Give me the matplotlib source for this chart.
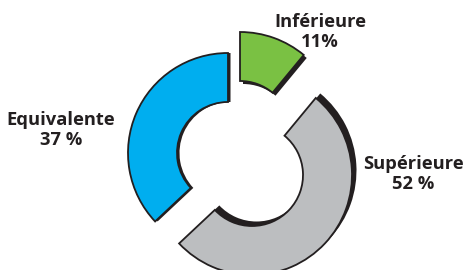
import matplotlib
matplotlib.use('Agg')
import matplotlib.pyplot as plt
from matplotlib.patches import Wedge

# data
categories = ['Inférieure', 'Supérieure', 'Equivalente']
values = [11, 52, 37]
pct_labels = ['11%', '52 %', '37 %']
colors = ['#7AC143', '#BCBEC0', '#00AEEF']

# layout (pixel-like units, y up)
center = (240, 117)
R, width = 100, 49
explode = [(0, 21), (12, -22), (-12, 0)]
shadow = [(3, -3), (4.5, 4.5), (2.5, 0)]
label_pos = [(320, 238), (413, 96), (61, 140)]

fig = plt.figure(figsize=(4.68, 2.70), dpi=100)
ax = fig.add_axes([0, 0, 1, 1])
ax.set_xlim(0, 468)
ax.set_ylim(0, 270)
ax.set_aspect('equal')
ax.axis('off')

total = sum(values)
start = 90.0
for i, v in enumerate(values):
    sweep = 360.0 * v / total
    t1, t2 = start - sweep, start
    cx = center[0] + explode[i][0]
    cy = center[1] + explode[i][1]
    sh = Wedge((cx + shadow[i][0], cy + shadow[i][1]), R, t1, t2, width=width,
               facecolor='#231F20', edgecolor='none', zorder=1)
    ax.add_patch(sh)
    w = Wedge((cx, cy), R, t1, t2, width=width,
              facecolor=colors[i], edgecolor='#231F20', linewidth=1.3, zorder=2)
    ax.add_patch(w)
    start -= sweep

for i, cat in enumerate(categories):
    x, y = label_pos[i]
    ax.text(x, y, cat + '\n' + pct_labels[i], ha='center', va='center',
            fontsize=13.2, fontweight='bold', family='Open Sans',
            color='#231F20', linespacing=1.12)

fig.savefig('out.png', dpi=100)
